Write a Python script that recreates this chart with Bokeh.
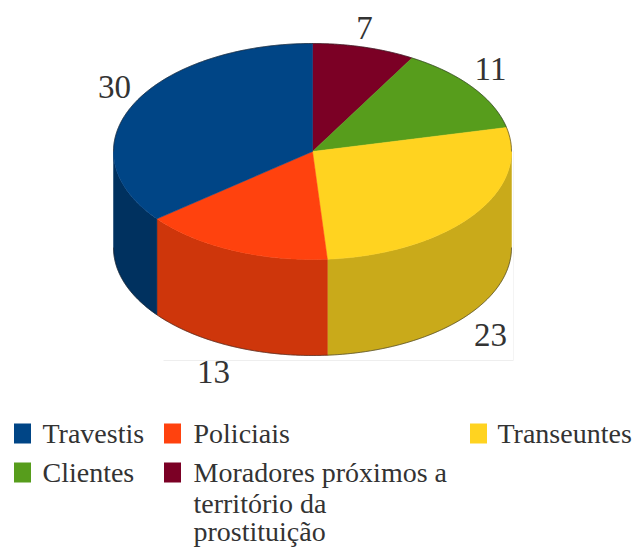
import numpy as np
from bokeh.plotting import figure
from bokeh.embed import file_html
from bokeh.resources import INLINE
from bokeh.models import Range1d, Label

categories = ["Moradores próximos a território da prostituição", "Clientes", "Transeuntes", "Policiais", "Travestis"]
values = [7, 11, 23, 13, 30]
top_colors = ["#7b0025", "#579d1c", "#ffd320", "#ff420e", "#004586"]
side_colors = ["#5f001c", "#437a15", "#c9aa1a", "#ce360b", "#00315f"]
FONT = "Liberation Serif"
TXT = "#333333"

W, H = 635, 548
p = figure(width=W, height=H, output_backend="svg", toolbar_location=None,
           x_range=Range1d(0, W), y_range=Range1d(H, 0),
           min_border=0, outline_line_color=None, background_fill_color="white")
p.axis.visible = False
p.grid.visible = False

cx, cy, rx, ry, depth = 312.0, 151.0, 199.0, 108.0, 96.0


def ex(t):
    return cx + rx * np.sin(t)


def ey(t):
    return cy - ry * np.cos(t)


edges = np.cumsum([0] + values) / sum(values) * 2 * np.pi

# faint scan artefact lines beneath the pie
p.line([163, 513], [360, 360], line_color="#eeeeee", line_width=1)
p.line([513, 513], [150, 360], line_color="#f4f4f4", line_width=1)

# side walls (only the front half, pi/2 .. 3pi/2, is visible)
for i, c in enumerate(side_colors):
    a = max(edges[i], np.pi / 2)
    b = min(edges[i + 1], 3 * np.pi / 2)
    if b <= a:
        continue
    t = np.linspace(a, b, 80)
    xs = np.r_[ex(t), ex(t[::-1])]
    ys = np.r_[ey(t), ey(t[::-1]) + depth]
    p.patch(xs, ys, fill_color=c, line_color=c, line_width=0.5)

# top faces
for i, c in enumerate(top_colors):
    t = np.linspace(edges[i], edges[i + 1], 120)
    xs = np.r_[cx, ex(t)]
    ys = np.r_[cy, ey(t)]
    p.patch(xs, ys, fill_color=c, line_color=c, line_width=0.5)

# thin dark rim
t = np.linspace(np.pi * 1.5, np.pi * 2.5, 240)
p.line(ex(t), ey(t), line_color="#222222", line_width=1, line_alpha=0.55)
t = np.linspace(np.pi / 2, np.pi * 1.5, 240)
p.line(ex(t), ey(t) + depth, line_color="#222222", line_width=1, line_alpha=0.55)

# value labels
label_pos = {7: (364, 27), 11: (490, 68), 23: (490, 334), 13: (213, 371), 30: (114, 86)}
for v in values:
    x, y = label_pos[v]
    p.add_layout(Label(x=x, y=y, text=str(v), text_font=FONT, text_font_size="33px",
                       text_color=TXT, text_align="center", text_baseline="middle"))

# legend
legend_rows = [
    ("Travestis", 22, 433, "#004586", 42),
    ("Policiais", 172, 433, "#ff420e", 193),
    ("Transeuntes", 478, 433, "#ffd320", 497),
    ("Clientes", 22, 472, "#579d1c", 42),
    ("Moradores próximos a", 172, 472, "#7b0025", 193),
]
for name, sx, sy, col, tx in legend_rows:
    p.rect([sx], [sy], width=17, height=20, fill_color=col, line_color=None)
    p.add_layout(Label(x=tx, y=sy, text=name, text_font=FONT, text_font_size="28px",
                       text_color=TXT, text_align="left", text_baseline="middle"))
for line, ly in (("território da", 503), ("prostituição", 531)):
    p.add_layout(Label(x=193, y=ly, text=line, text_font=FONT, text_font_size="28px",
                       text_color=TXT, text_align="left", text_baseline="middle"))

open("out.html", "w").write(file_html(p, INLINE))
